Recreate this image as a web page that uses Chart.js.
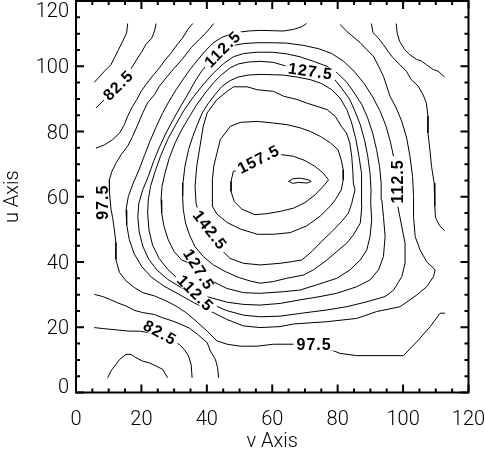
<!DOCTYPE html>
<html><head><meta charset="utf-8">
<script src="https://cdn.jsdelivr.net/npm/chart.js@4/dist/chart.umd.min.js"></script>
<style>html,body{margin:0;padding:0;background:#fff}</style>
</head><body>
<canvas id="c" width="485" height="450"></canvas>
<script>
const xTicks = [0, 20, 40, 60, 80, 100, 120];
const yTicks = [0, 20, 40, 60, 80, 100, 120];
const xTitle = 'v Axis';
const yTitle = 'u Axis';

// contour pieces, [v, u] pairs
const c75a = [[15.8,113.1],[15.5,110.3],[14.3,107.7],[13.0,105.1],[12.0,103.1],[10.7,100.5],[8.7,98.5],[7.1,96.7],[5.6,95.1]];
const c75b = [[9.7,4.5],[10.7,6.6],[12.2,8.6],[13.3,10.1],[15.3,11.7],[16.8,11.7],[18.3,10.7],[20.4,9.6],[22.4,9.1],[24.5,8.1],[26.5,7.1],[28.0,4.5]];
const c825a = [[24.5,113.1],[24.0,110.8],[23.2,108.7],[21.4,106.7],[20.2,104.6],[18.9,102.6],[17.3,100.0],[15.3,97.0],[12.7,94.4],[10.2,91.8],[8.2,89.3],[6.1,87.2]];
const c825b = [[5.6,19.9],[8.2,19.6],[10.2,19.4],[13.3,19.1],[16.3,18.8],[19.4,18.8],[21.4,18.5],[25.5,17.5],[29.6,15.8],[31.6,14.7],[33.1,13.2],[34.4,11.2],[35.2,8.6],[35.5,4.5]];
const c90a = [[35.7,113.1],[34.2,111.3],[32.6,108.7],[30.6,106.2],[29.1,104.1],[27.0,101.6],[25.5,99.5],[23.4,97.0],[21.4,94.4],[19.9,92.3],[18.6,89.8],[17.3,87.7],[15.8,84.7],[14.8,82.1],[13.3,79.5],[11.2,77.5],[8.7,75.9],[6.1,74.9]];
const c90b = [[5.6,30.1],[8.2,29.4],[10.2,28.6],[12.7,27.5],[15.3,26.5],[17.8,25.2],[20.4,24.5],[24.0,23.9],[26.5,22.9],[29.6,21.9],[32.1,20.9],[34.7,19.7],[37.2,17.8],[40.1,15.3],[41.1,12.7],[42.6,10.2],[43.3,7.6],[43.6,4.5]];
const c90c = [[97.9,113.1],[98.2,110.2],[98.9,107.7],[100.5,105.1],[102.0,103.6],[104.1,102.1],[105.6,101.6],[107.1,100.5],[109.2,99.0],[110.7,98.5],[112.7,96.7]];
const c975a = [[90.3,113.1],[90.8,110.3],[92.4,108.7],[93.9,106.7],[95.4,104.6],[96.9,102.6],[99.0,100.5],[101.0,98.5],[102.5,95.9],[104.6,93.9],[106.1,91.3],[107.1,88.8],[107.6,84.7],[107.6,79.6],[108.2,74.4],[108.7,69.3],[109.5,64.2],[109.7,60.3],[109.7,57.2],[109.9,53.6],[111.2,51.1],[112.7,49.6]];
const c975b = [[42.1,113.1],[40.8,111.5],[39.6,110.1],[37.7,108.2],[35.2,105.7],[32.6,102.3],[30.1,99.5],[27.5,96.4],[25.5,93.9],[24.0,91.3],[21.9,88.8],[20.4,85.7],[18.9,82.1],[17.3,78.5],[15.8,75.5],[13.8,72.9],[12.2,70.3],[11.0,67.8],[10.2,65.2],[10.2,61.6],[10.7,56.2],[11.2,53.6],[11.7,50.1],[12.2,46.0],[12.2,40.8],[13.3,36.8],[15.3,34.2],[17.8,32.2],[20.4,30.6],[24.0,29.6],[27.5,28.1],[30.6,26.5],[33.6,24.5],[36.7,21.9],[40.1,18.8],[43.1,15.8],[46.2,14.8],[50.2,14.2],[55.4,14.2],[60.4,14.8],[67.5,14.8],[78.2,13.0],[80.7,12.0],[85.8,11.3],[100.1,11.3],[104.7,16.1],[108.3,20.2],[111.3,24.3],[112.8,24.3]];
const c105 = [[70.5,113.1],[69.0,112.1],[66.5,111.3],[63.4,110.8],[60.0,110.9],[56.3,111.0],[52.7,110.8],[49.6,110.4],[47.1,109.8],[44.5,108.8],[42.0,107.2],[39.7,104.9],[37.4,102.2],[35.1,99.3],[32.8,96.1],[30.6,92.8],[28.4,89.2],[26.4,85.5],[24.5,81.4],[22.6,77.0],[20.9,72.6],[19.3,68.3],[17.5,64.2],[16.0,60.1],[15.3,56.0],[15.5,51.4],[16.3,46.8],[17.8,42.5],[20.1,38.6],[23.1,35.3],[26.9,32.6],[31.3,30.2],[35.9,27.6],[41.0,25.0],[46.1,22.4],[51.2,20.4],[56.3,19.9],[62.4,20.2],[66.5,21.0],[76.7,21.7],[85.8,22.7],[91.9,24.8],[99.1,26.3],[104.2,29.9],[107.2,32.4],[109.3,35.5],[109.8,37.6],[107.2,40.1],[105.2,43.7],[103.7,47.8],[103.2,53.9],[103.2,60.1],[102.9,66.2],[102.1,72.4],[101.1,78.0],[99.6,83.1],[97.9,87.2],[96.0,90.8],[95.0,93.9],[94.0,96.9],[92.5,100.0],[90.9,103.1],[88.9,105.1],[86.9,107.2],[84.3,109.4],[82.8,110.7],[80.7,112.8]];
const c1125 = [[56.3,23.2],[62.4,23.4],[69.0,24.3],[76.7,25.3],[82.8,26.3],[88.9,27.8],[94.5,29.4],[97.1,31.4],[99.6,35.5],[100.6,39.6],[100.6,45.8],[99.4,51.9],[98.4,57.0],[98.1,61.1],[97.9,66.2],[97.3,71.3],[96.2,76.5],[94.8,81.6],[93.0,86.2],[90.7,90.6],[88.1,94.7],[85.0,98.5],[81.8,101.5],[78.2,103.9],[74.1,105.4],[69.5,106.4],[64.4,107.1],[60.0,107.2],[55.3,107.2],[51.7,107.0],[48.6,106.5],[46.6,105.8],[44.5,104.9],[42.5,103.3],[40.5,101.0],[38.4,98.5],[36.4,95.4],[34.4,91.8],[32.1,87.9],[29.8,83.8],[27.5,79.5],[25.5,75.2],[23.7,70.8],[22.1,66.2],[20.4,62.1],[19.2,58.0],[18.9,53.9],[19.3,49.3],[20.4,44.9],[22.2,40.9],[24.7,37.6],[28.0,34.7],[32.1,32.2],[36.4,29.9],[41.0,27.3],[46.1,25.1],[51.2,23.7],[56.3,23.2]];
const c120 = [[56.3,26.8],[62.4,27.3],[68.5,28.4],[74.6,29.4],[79.7,30.4],[85.8,32.4],[89.9,34.5],[92.5,37.6],[94.0,41.7],[94.5,47.8],[94.0,53.9],[93.5,59.1],[93.3,64.2],[92.8,69.3],[91.9,74.4],[90.7,79.5],[89.2,84.1],[87.4,88.2],[85.1,91.8],[82.8,95.1],[79.9,97.9],[76.7,100.0],[72.6,101.5],[68.5,102.9],[64.4,103.8],[60.0,104.3],[55.3,104.3],[51.2,103.9],[48.1,102.9],[45.1,100.8],[42.0,97.9],[38.9,94.4],[35.9,90.6],[33.0,86.5],[30.5,82.1],[28.0,77.5],[25.9,72.6],[24.2,67.8],[22.8,63.2],[22.1,59.1],[21.9,55.0],[22.3,49.8],[23.4,45.2],[25.4,41.1],[28.0,37.8],[31.3,34.7],[35.1,31.9],[40.0,29.4],[46.1,27.7],[51.2,27.0],[56.3,26.8]];
const c1275 = [[56.3,30.4],[63.4,30.9],[68.5,31.4],[73.6,33.0],[79.7,35.0],[83.8,37.6],[86.9,40.6],[88.9,43.7],[89.9,47.8],[90.4,52.9],[90.1,58.0],[90.2,62.1],[89.9,67.2],[89.2,72.4],[88.2,77.5],[86.9,82.1],[85.3,86.2],[83.6,90.0],[81.2,93.3],[78.7,96.4],[76.1,97.7],[71.6,98.5],[66.5,99.5],[63.4,100.3],[60.3,101.2],[56.3,101.5],[52.7,101.3],[49.6,100.7],[47.1,99.5],[44.5,97.4],[42.0,94.9],[39.5,91.8],[36.9,88.2],[34.7,84.6],[32.3,80.5],[30.3,76.5],[28.5,71.8],[27.2,67.2],[26.3,63.2],[26.0,59.1],[26.2,55.0],[26.9,50.9],[28.2,46.8],[30.0,43.2],[32.3,40.6],[34.9,39.6],[37.9,37.1],[41.5,34.2],[46.1,31.9],[51.2,30.6],[56.3,30.4]];
const c135 = [[56.3,33.5],[60.3,34.0],[64.4,35.0],[69.5,36.0],[72.6,37.6],[76.7,40.6],[79.7,43.2],[82.8,45.8],[84.8,48.3],[86.9,51.9],[87.4,57.0],[87.4,62.1],[87.2,67.2],[86.5,72.4],[85.6,77.5],[84.3,82.6],[82.8,86.7],[80.7,90.3],[78.2,92.8],[75.1,94.7],[71.6,95.9],[67.5,96.7],[63.4,97.3],[60.0,97.4],[56.3,97.5],[52.7,97.3],[49.6,96.7],[47.1,95.6],[44.5,93.7],[42.5,91.3],[40.5,88.7],[38.6,85.7],[37.1,82.1],[35.7,78.5],[34.4,74.4],[33.3,69.3],[32.7,64.2],[32.6,60.1],[32.8,56.0],[33.5,51.9],[34.7,48.3],[36.4,44.7],[38.9,41.7],[42.0,39.1],[45.6,37.1],[49.6,35.3],[53.2,34.2],[56.3,33.5]];
const c1425 = [[40.1,85.7],[43.1,89.8],[46.2,92.3],[48.2,93.7],[52.3,93.7],[55.4,92.8],[60.4,92.3],[63.5,90.8],[67.6,89.8],[70.6,88.7],[73.7,87.7],[76.8,86.7],[79.3,84.6],[81.1,81.6],[82.7,79.5],[83.7,76.5],[84.3,72.4],[84.6,68.3],[84.8,64.2],[85.3,62.1],[84.3,58.0],[83.3,55.0],[81.2,52.4],[78.2,49.3],[75.1,46.3],[72.1,43.2],[69.0,40.6],[65.9,40.1],[62.4,39.6],[56.3,39.1],[51.2,39.6],[47.1,41.1],[44.0,44.2],[41.0,48.8],[37.9,53.9],[36.7,58.0],[36.4,63.2],[36.9,69.3],[37.9,75.4],[38.9,81.6],[40.1,85.7]];
const c150 = [[44.1,77.5],[47.2,81.6],[50.3,82.8],[55.4,83.1],[60.4,82.6],[64.5,82.1],[68.6,81.1],[71.7,80.0],[74.7,78.5],[77.8,76.5],[80.1,74.4],[81.1,71.3],[81.7,68.3],[81.7,65.2],[81.1,62.1],[79.3,59.1],[77.8,57.2],[74.7,54.1],[70.6,51.1],[65.5,49.0],[60.4,48.5],[55.4,48.5],[50.3,50.1],[46.2,52.1],[43.1,54.7],[41.6,57.2],[41.8,60.3],[41.6,65.2],[42.1,69.3],[43.1,73.4],[44.1,77.5]];
const c1575 = [[48.1,67.8],[47.4,64.7],[47.4,61.6],[48.4,58.5],[50.7,56.2],[54.7,54.5],[58.3,54.8],[62.4,55.5],[66.5,56.5],[70.0,58.2],[73.1,60.6],[75.6,63.2],[77.2,65.2],[75.6,67.2],[73.1,69.3],[70.0,71.1],[66.5,72.4],[62.9,72.9],[60.3,73.1],[57.3,72.3],[53.2,70.3],[50.2,68.3],[48.1,67.8]];
const c165 = [[65.0,64.7],[66.3,65.5],[68.5,65.7],[71.1,65.2],[71.9,64.7],[70.7,64.2],[68.0,64.4],[66.3,64.1],[65.0,64.7]];

const pieces = [c75a, c75b, c825a, c825b, c90a, c90b, c90c, c975a, c975b, c105, c1125, c120, c1275, c135, c1425, c150, c1575, c165];

// contour labels: text, anchor (v,u), angle in degrees
const labelText = ['82.5', '112.5', '127.5', '157.5', '97.5', '112.5', '142.5', '127.5', '112.5', '82.5', '97.5'];
const labelV = [12.9, 44.8, 71.7, 55.8, 8.1, 98.3, 41.0, 37.6, 36.5, 25.7, 72.8];
const labelU = [94.2, 105.3, 98.5, 71.5, 58.3, 64.7, 49.8, 37.7, 30.5, 18.4, 14.7];
const labelA = [-45, -45, 8, -27, -90, -90, 52, 58, 45, 29, 0];

const datasets = pieces.map(p => ({
  data: p.map(q => ({x: q[0], y: q[1]})),
  showLine: true, borderColor: '#000', borderWidth: 1, pointRadius: 0, tension: 0, fill: false
}));

const frame = {
  id: 'frame',
  afterDatasetsDraw(chart) {
    const ctx = chart.ctx, xs = chart.scales.x, ys = chart.scales.y;
    ctx.save();
    ctx.font = 'bold 16px "Liberation Sans", Arial, sans-serif';
    if ('letterSpacing' in ctx) ctx.letterSpacing = '1px';
    ctx.textAlign = 'center'; ctx.textBaseline = 'middle';
    for (let i = 0; i < labelText.length; i++) {
      const px = xs.getPixelForValue(labelV[i]), py = ys.getPixelForValue(labelU[i]);
      const w = ctx.measureText(labelText[i]).width;
      ctx.save();
      ctx.translate(px, py); ctx.rotate(labelA[i] * Math.PI / 180);
      ctx.fillStyle = '#fff'; ctx.fillRect(-w / 2 - 3, -6, w + 6, 12);
      ctx.fillStyle = '#000'; ctx.fillText(labelText[i], 0, 1);
      ctx.restore();
    }
    ctx.restore();
  },
  afterDraw(chart) {
    const ctx = chart.ctx, xs = chart.scales.x, ys = chart.scales.y, a = chart.chartArea;
    ctx.save();
    ctx.strokeStyle = '#000'; ctx.lineWidth = 2;
    ctx.strokeRect(a.left, a.top, a.right - a.left, a.bottom - a.top);
    ctx.beginPath();
    for (let v = 0; v <= 120; v += 5) {
      const len = (v % 20 === 0) ? 8 : 4;
      const px = xs.getPixelForValue(v);
      ctx.moveTo(px, a.bottom); ctx.lineTo(px, a.bottom - len);
      ctx.moveTo(px, a.top); ctx.lineTo(px, a.top + len);
      const py = ys.getPixelForValue(v);
      ctx.moveTo(a.left, py); ctx.lineTo(a.left + len, py);
      ctx.moveTo(a.right, py); ctx.lineTo(a.right - len, py);
    }
    ctx.stroke();
    ctx.fillStyle = '#000';
    ctx.font = '300 20px Roboto, "Liberation Sans", Arial, sans-serif';
    ctx.textAlign = 'center'; ctx.textBaseline = 'alphabetic';
    xTicks.forEach(t => ctx.fillText(String(t), xs.getPixelForValue(t), 425));
    ctx.textAlign = 'right';
    yTicks.forEach(t => {
      let py = ys.getPixelForValue(t) + 7;
      py = Math.max(17, Math.min(py, 393));
      ctx.fillText(String(t), 69, py);
    });
    ctx.textAlign = 'center';
    ctx.fillText(xTitle, (a.left + a.right) / 2, 447);
    ctx.save();
    ctx.translate(18, (a.top + a.bottom) / 2); ctx.rotate(-Math.PI / 2);
    ctx.fillText(yTitle, 0, 0);
    ctx.restore();
    ctx.restore();
  }
};

new Chart(document.getElementById('c'), {
  type: 'scatter',
  data: { datasets },
  options: {
    responsive: false, animation: false, events: [],
    layout: { padding: { left: 76, right: 16.5, top: 1, bottom: 57.5 } },
    scales: {
      x: { type: 'linear', min: 0, max: 120, display: false },
      y: { type: 'linear', min: 0, max: 120, display: false }
    },
    plugins: { legend: { display: false }, tooltip: { enabled: false } }
  },
  plugins: [frame]
});
</script>
</body></html>
